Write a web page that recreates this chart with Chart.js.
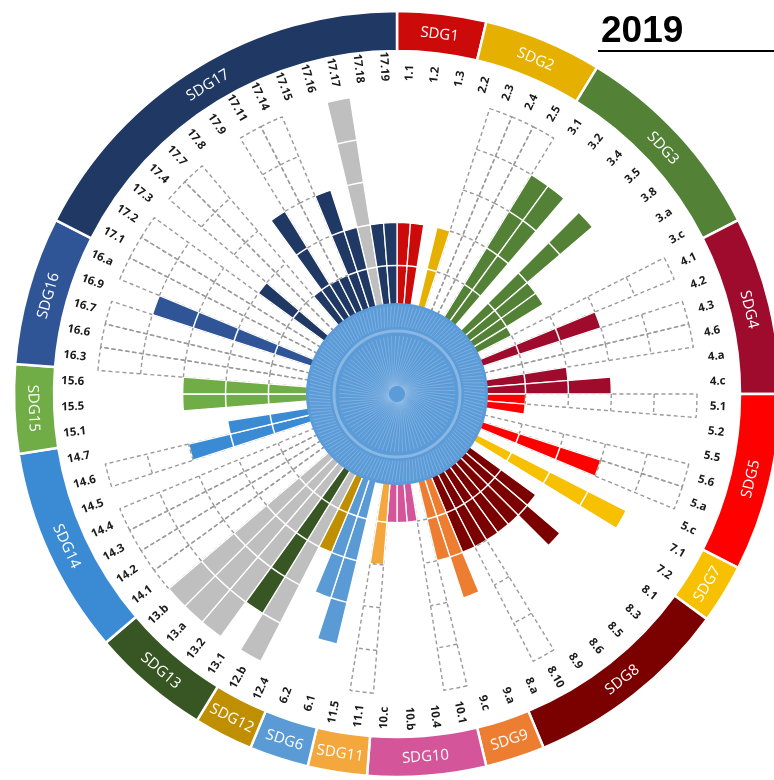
<!DOCTYPE html>
<html>
<head>
<meta charset="utf-8">
<script src="https://cdn.jsdelivr.net/npm/chart.js@4.4.1/dist/chart.umd.min.js"></script>
<style>
  html, body { margin: 0; padding: 0; background: #fff; overflow: hidden; }
  #wrap { position: relative; width: 774px; height: 780px; }
  #wrap canvas { position: absolute; left: 0; top: 0; }
</style>
</head>
<body>
<div id="wrap">
  <canvas id="ring" width="774" height="780"></canvas>
  <canvas id="bars" width="774" height="780"></canvas>
</div>
<script>
// SDG targets, clockwise from the top
const targets = ["1.1","1.2","1.3","2.2","2.3","2.4","2.5","3.1","3.2","3.4","3.5","3.8","3.a","3.c",
	"4.1","4.2","4.3","4.6","4.a","4.c","5.1","5.2","5.5","5.6","5.a","5.c","7.1","7.2",
	"8.1","8.3","8.5","8.6","8.9","8.10","8.a","9.a","9.c","10.1","10.4","10.b","10.c",
	"11.1","11.5","6.1","6.2","12.4","12.b","13.1","13.2","13.a","13.b",
	"14.1","14.2","14.3","14.4","14.5","14.6","14.7","15.1","15.5","15.6",
	"16.3","16.6","16.7","16.9","16.a","17.1","17.2","17.3","17.4","17.7","17.8","17.9",
	"17.11","17.14","17.15","17.16","17.17","17.18","17.19"];

// coloured score per target
const achieved = [2,2,0, 2,0,0,0, 4,4,0,4,2,2,1, 0,3,0,0,2,3, 1,1,0,0,3,0, 4,0,
	2,3,2,2,2,2,2, 3,2, 0,1,1,1, 2,0, 4,3, 2,0, 4,0,0,0,
	0,0,0,0,0,3,2, 0,3,3, 0,0,0,4,0, 0,0,2,0,0,1,3,1,1,3,2,0,2,2];

// grey score per target
const neutral = [0,0,0, 0,0,0,0, 0,0,0,0,0,0,0, 0,0,0,0,0,0, 0,0,0,0,0,0, 0,0,
	0,0,0,0,0,0,0, 0,0, 0,0,0,0, 0,0, 0,0, 0,5, 0,5,5,5,
	0,0,0,0,0,0,0, 0,0,0, 0,0,0,0,0, 0,0,0,0,0,0,0,0,0,0,0,5,0,0];

// dashed outline (potential) per target
const potential = [0,0,0, 0,5,5,5, 0,0,0,0,0,0,0, 5,0,5,5,0,0, 5,0,0,5,5,0, 0,0,
	0,0,0,0,0,5,0, 0,0, 5,0,0,0, 5,0, 0,0, 0,0, 0,0,0,0,
	5,5,5,5,0,5,0, 0,0,0, 5,5,5,0,5, 5,5,0,5,5,0,0,5,5,0,0,0,0,0];

const goalColors = {
	1: "#cc0a0a", 2: "#e6b000", 3: "#538135", 4: "#9e0b2c", 5: "#ff0000", 6: "#5b9bd5",
	7: "#f7c000", 8: "#7b0000", 9: "#ed7d31", 10: "#d4559a", 11: "#f4a73c", 12: "#bf8f00",
	13: "#375623", 14: "#3b8bd4", 15: "#70ad47", 16: "#2f5597", 17: "#1f3864"
};

const goalOf = (t) => parseInt(t.split(".")[0]);

// goals in ring order with their number of targets
const ringGoals = [];
const ringCounts = [];
for (let t of targets) {
	const g = goalOf(t);
	if (ringGoals[ringGoals.length - 1] !== g) {
		ringGoals.push(g);
		ringCounts.push(0);
	}
	ringCounts[ringCounts.length - 1]++;
}

const ringLabels = {
	id: "ringLabels",
	afterDatasetsDraw(chart) {
		const ctx = chart.ctx;
		const meta = chart.getDatasetMeta(0);
		ctx.save();
		ctx.fillStyle = "#fff";
		ctx.font = "15px 'Open Sans'";
		ctx.textAlign = "center";
		ctx.textBaseline = "middle";
		meta.data.forEach((arc, i) => {
			const mid = (arc.startAngle + arc.endAngle) / 2;
			const r = (arc.innerRadius + arc.outerRadius) / 2;
			let theta = (mid + Math.PI / 2) % (2 * Math.PI);
			if (theta < 0) theta += 2 * Math.PI;
			const rot = theta > Math.PI / 2 && theta < Math.PI * 1.5 ? theta - Math.PI : theta;
			ctx.save();
			ctx.translate(arc.x + Math.cos(mid) * r, arc.y + Math.sin(mid) * r);
			ctx.rotate(rot);
			ctx.fillText("SDG" + ringGoals[i], 0, 1);
			ctx.restore();
		});
		ctx.restore();
	},
};

new Chart(document.getElementById("ring"), {
	type: "doughnut",
	data: {
		labels: ringGoals.map((g) => "SDG" + g),
		datasets: [
			{
				data: ringCounts,
				backgroundColor: ringGoals.map((g) => goalColors[g]),
				borderColor: "#fff",
				borderWidth: 2.5,
			},
		],
	},
	options: {
		responsive: false,
		animation: false,
		radius: 383,
		cutout: (343 / 383) * 100 + "%",
		layout: { padding: { left: 20, right: 0, top: 8, bottom: 0 } },
		plugins: { legend: { display: false }, tooltip: { enabled: false } },
	},
	plugins: [ringLabels],
});

const barDecor = {
	id: "barDecor",
	afterDatasetsDraw(chart) {
		const ctx = chart.ctx;
		const scale = chart.scales.r;
		const arcs = chart.getDatasetMeta(0).data;
		ctx.save();
		arcs.forEach((arc, i) => {
			const v = Math.max(achieved[i], neutral[i]);
			// white segment lines in filled bars
			ctx.strokeStyle = "#fff";
			ctx.lineWidth = 1.5;
			ctx.setLineDash([]);
			for (let k = 1; k < v; k++) {
				ctx.beginPath();
				ctx.arc(arc.x, arc.y, scale.getDistanceFromCenterForValue(k), arc.startAngle, arc.endAngle);
				ctx.stroke();
			}
			// dashed segment lines in outlines
			ctx.strokeStyle = "#9a9a9a";
			ctx.lineWidth = 1.4;
			ctx.setLineDash([4, 3]);
			for (let k = Math.max(v, 1); k < potential[i]; k++) {
				ctx.beginPath();
				ctx.arc(arc.x, arc.y, scale.getDistanceFromCenterForValue(k), arc.startAngle, arc.endAngle);
				ctx.stroke();
			}
		});
		ctx.setLineDash([]);

		// blue centre disc
		const cx = scale.xCenter, cy = scale.yCenter;
		ctx.beginPath();
		ctx.arc(cx, cy, 91, 0, Math.PI * 2);
		ctx.fillStyle = "#5b9bd8";
		ctx.fill();
		ctx.strokeStyle = "rgba(255,255,255,0.2)";
		ctx.lineWidth = 1;
		for (let j = 0; j < 150; j++) {
			const a = (j * Math.PI * 2) / 150;
			ctx.beginPath();
			ctx.moveTo(cx + Math.cos(a) * 67, cy + Math.sin(a) * 67);
			ctx.lineTo(cx + Math.cos(a + 0.04) * 88, cy + Math.sin(a + 0.04) * 88);
			ctx.stroke();
		}
		for (let j = 0; j < 90; j++) {
			const a = (j * Math.PI * 2) / 90;
			ctx.beginPath();
			ctx.moveTo(cx + Math.cos(a) * 8, cy + Math.sin(a) * 8);
			ctx.lineTo(cx + Math.cos(a + 0.5) * 58, cy + Math.sin(a + 0.5) * 58);
			ctx.stroke();
		}
		ctx.strokeStyle = "rgba(255,255,255,0.28)";
		ctx.lineWidth = 3;
		ctx.beginPath();
		ctx.arc(cx, cy, 63, 0, Math.PI * 2);
		ctx.stroke();
		ctx.restore();
	},
	afterDraw(chart) {
		const ctx = chart.ctx;
		const scale = chart.scales.r;
		const arcs = chart.getDatasetMeta(0).data;
		ctx.save();
		ctx.fillStyle = "#1a1a1a";
		ctx.font = "bold 11.5px 'Open Sans'";
		ctx.textBaseline = "middle";
		arcs.forEach((arc, i) => {
			const mid = (arc.startAngle + arc.endAngle) / 2;
			let theta = (mid + Math.PI / 2) % (2 * Math.PI);
			if (theta < 0) theta += 2 * Math.PI;
			const r = 313;
			ctx.save();
			ctx.translate(scale.xCenter + Math.cos(mid) * r, scale.yCenter + Math.sin(mid) * r);
			if (theta < Math.PI) {
				ctx.rotate(mid);
				ctx.textAlign = "left";
			} else {
				ctx.rotate(mid + Math.PI);
				ctx.textAlign = "right";
			}
			ctx.fillText(targets[i], 0, 0);
			ctx.restore();
		});

		// year title
		ctx.fillStyle = "#000";
		ctx.font = "bold 37px 'Liberation Sans', Arial, sans-serif";
		ctx.textAlign = "left";
		ctx.textBaseline = "alphabetic";
		ctx.fillText("2019", 601, 42);
		ctx.fillRect(598, 50, 176, 2);
		ctx.restore();
	},
};

new Chart(document.getElementById("bars"), {
	type: "polarArea",
	data: {
		labels: targets,
		datasets: [
			{
				data: achieved,
				backgroundColor: targets.map((t) => goalColors[goalOf(t)]),
				borderColor: "#fff",
				borderWidth: 1.3,
			},
			{
				data: neutral,
				backgroundColor: "#bfbfbf",
				borderColor: "#fff",
				borderWidth: 1.3,
			},
			{
				data: potential,
				backgroundColor: "rgba(0,0,0,0)",
				borderColor: "#9a9a9a",
				borderWidth: 1.4,
				borderDash: [4, 3],
			},
		],
	},
	options: {
		responsive: false,
		animation: false,
		layout: { padding: { left: 97, right: 77, top: 94, bottom: 86 } },
		scales: {
			r: {
				min: -2,
				max: 5,
				ticks: { display: false },
				grid: { display: false },
				angleLines: { display: false },
				pointLabels: { display: false },
			},
		},
		plugins: { legend: { display: false }, tooltip: { enabled: false } },
	},
	plugins: [barDecor],
});
</script>
</body>
</html>
